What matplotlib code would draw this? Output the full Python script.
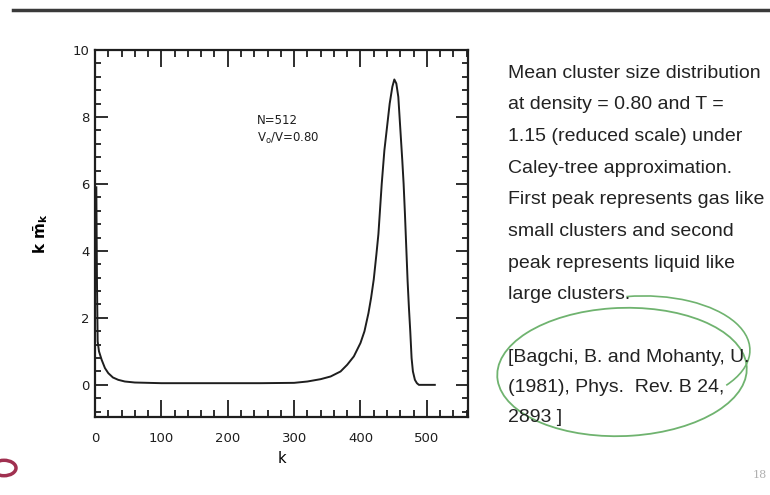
import matplotlib
matplotlib.use("Agg")
import matplotlib.pyplot as plt
from matplotlib.patches import Ellipse, Circle, Arc
from matplotlib.ticker import MultipleLocator

plt.rcParams['font.family'] = ['DejaVu Sans']

# cluster size k and k*m_k
k_vals = [2, 3, 4, 6, 10, 15, 20, 27, 35, 45, 60, 100, 150, 200, 250, 300,
          320, 340, 355, 370, 380, 390, 400, 406, 412, 416, 420, 424, 427,
          432, 436, 440, 444, 448, 451, 454, 457, 460, 463, 465, 467, 469,
          471, 473, 475, 477, 479, 482, 485, 488, 495, 512]
km_vals = [5.9, 3.0, 1.3, 1.0, 0.75, 0.5, 0.35, 0.22, 0.15, 0.1, 0.07, 0.05,
           0.05, 0.05, 0.05, 0.06, 0.1, 0.17, 0.25, 0.4, 0.6, 0.85, 1.25,
           1.6, 2.14, 2.6, 3.15, 3.9, 4.5, 6.0, 7.0, 7.7, 8.4, 8.9, 9.12, 9.0,
           8.6, 7.65, 6.7, 6.0, 5.1, 4.1, 3.1, 2.3, 1.6, 0.8, 0.4, 0.15, 0.05,
           0.0, 0.0, 0.0]

caption = ["Mean cluster size distribution",
           "at density = 0.80 and T =",
           "1.15 (reduced scale) under",
           "Caley-tree approximation.",
           "First peak represents gas like",
           "small clusters and second",
           "peak represents liquid like",
           "large clusters."]
reference = ["[Bagchi, B. and Mohanty, U.",
             "(1981), Phys.  Rev. B 24,",
             "2893 ]"]

fig = plt.figure(figsize=(7.7, 4.95), dpi=100)
W, H = 770, 495

# slide header rule
fig.add_artist(plt.Line2D([13 / W, 1.0], [1 - 10 / H, 1 - 10 / H],
                          color='#3a3a3a', lw=2.5))

ax = fig.add_axes([95 / W, 1 - 417 / H, 373 / W, 367 / H])
ax.plot(k_vals, km_vals, color='#1e1e1e', lw=1.4)
ax.set_xlim(0, 562)
ax.set_ylim(-0.96, 10)
ax.xaxis.set_major_locator(MultipleLocator(100))
ax.xaxis.set_minor_locator(MultipleLocator(20))
ax.yaxis.set_major_locator(MultipleLocator(2))
ax.yaxis.set_minor_locator(MultipleLocator(0.4))
ax.tick_params(which='both', direction='in', top=True, right=True,
               width=1.3, labelsize=9.5, colors='#1e1e1e')
ax.tick_params(axis='x', which='major', length=12, pad=11)
ax.tick_params(axis='x', which='minor', length=5)
ax.tick_params(axis='y', which='major', length=9, pad=4)
ax.tick_params(axis='y', which='minor', length=4)
for s in ax.spines.values():
    s.set_linewidth(1.6)
    s.set_color('#1e1e1e')
ax.set_xlabel('k', fontsize=10.5, labelpad=4)
ax.set_ylabel(r'$\mathbf{k}\ \bar{\mathbf{m}}_{\mathbf{k}}$', fontsize=11)
ax.yaxis.set_label_coords(-0.12, 0.5)

ax.text(244, 7.9, 'N=512', fontsize=8.5, va='center', color='#1e1e1e')
ax.text(244, 7.35, r'V$_\mathrm{o}$/V=0.80', fontsize=8.5, va='center',
        color='#1e1e1e')

# caption on the right
for i, line in enumerate(caption):
    fig.text(508 / W, 1 - (73 + 31.7 * i) / H, line, fontsize=14,
             family='Liberation Sans', va='center', color='#222222')
for i, line in enumerate(reference):
    fig.text(508 / W, 1 - (357 + 30 * i) / H, line, fontsize=14,
             family='Liberation Sans', va='center', color='#222222')

# hand drawn green loop around the reference
green = '#6fb36f'
fig.add_artist(Ellipse((622 / W, 1 - 372 / H), 250 / W, 128 / H, angle=6,
                       fill=False, ec=green, lw=1.3))
fig.add_artist(Arc((640 / W, 1 - 352 / H), 220 / W, 112 / H, angle=4,
                   theta1=-35, theta2=95, ec=green, lw=1.2))

fig.text(760 / W, 1 - 475 / H, '18', fontsize=8, family='DejaVu Serif',
         ha='center', va='center', color='#b0b0b0')

# partial logo in the bottom-left corner
fig.add_artist(Circle((4 / W, 1 - 468 / H), 12 / W, fill=False,
                      ec='#a03050', lw=2.5))

fig.savefig('out.png', dpi=100)
